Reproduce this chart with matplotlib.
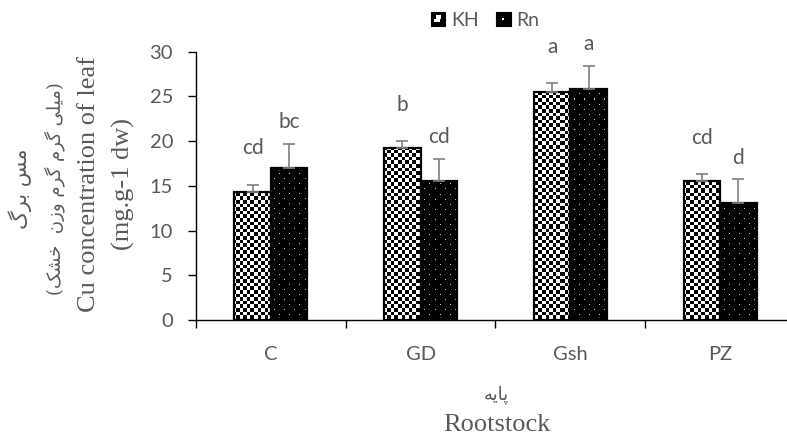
import numpy as np
import matplotlib
matplotlib.use("Agg")
import matplotlib.pyplot as plt
from matplotlib.patches import Rectangle, Patch
from matplotlib.legend_handler import HandlerBase

# ---------------- data ----------------
categories = ["C", "GD", "Gsh", "PZ"]
series_names = ["KH", "Rn"]
kh_values = [14.3, 19.2, 25.5, 15.5]
rn_values = [17.0, 15.5, 25.8, 13.1]
kh_err = [0.85, 0.85, 1.0, 0.85]
rn_err = [2.7, 2.5, 2.6, 2.65]
kh_letters = ["cd", "b", "a", "cd"]
rn_letters = ["bc", "cd", "a", "d"]
yticks = [0, 5, 10, 15, 20, 25, 30]

# Persian texts (presentation forms, visual order)
fa_line1 = "\uFB92\uFEAE\uFE91 \uFEB2\uFEE3"  # مس برگ
fa_line2 = ("(" + "\uFB8F\uFEB8\uFEA7" + "  " + "\uFEE5\uFEAF\uFEED" + " " +
            "\uFEE1\uFEAE\uFB94" + " " + "\uFEE1\uFEAE\uFB94" + " " +
            "\uFBFD\uFEE0\uFBFF\uFEE3" + ")")  # (میلی گرم گرم وزن خشک)
fa_xlabel = "\uFEEA\uFBFE\uFE8E\uFB58"  # پایه
en_ylabel1 = "Cu concentration of leaf"
en_ylabel2 = "(mg.g-1 dw)"
en_xlabel = "Rootstock"

W, H = 787, 438
fig = plt.figure(figsize=(W / 100, H / 100), dpi=100)

def fx(x):
    return x / W

def fy(y):
    return 1 - y / H

ax_l, ax_r, ax_t, ax_b = 196, 795, 51.7, 320
ax = fig.add_axes([fx(ax_l), fy(ax_b), (ax_r - ax_l) / W, (ax_b - ax_t) / H])

gray_txt = "#595959"
tick_font = "Lato"

x = np.arange(len(categories))
w = 0.244
ax.set_xlim(-0.5, len(categories) - 0.5)
ax.set_ylim(0, 30)

bars_kh = ax.bar(x - w / 2, kh_values, w, facecolor="none", edgecolor="black",
                 linewidth=1.6, zorder=3)
bars_rn = ax.bar(x + w / 2, rn_values, w, facecolor="none", edgecolor="black",
                 linewidth=1.6, zorder=3)

# pixel patterns
pw, ph = int(ax_r - ax_l), int(ax_b - ax_t)
jj, ii = np.meshgrid(np.arange(pw), np.arange(ph))
checker = ((np.floor(jj / 3.6) + np.floor(ii / 3.6)) % 2).astype(float)
dots = np.zeros((ph, pw))
row = ii // 5
mask = (ii % 5 == 2) & (((jj + (row % 2) * 5) % 10) == 3)
dots[mask] = 0.8

ext = (ax.get_xlim()[0], ax.get_xlim()[1], 0, 30)
for b in bars_kh:
    im = ax.imshow(checker, extent=ext, aspect="auto", interpolation="nearest",
                   cmap="gray", vmin=0, vmax=1, zorder=2, origin="upper")
    im.set_clip_path(b)
for b in bars_rn:
    im = ax.imshow(dots, extent=ext, aspect="auto", interpolation="nearest",
                   cmap="gray", vmin=0, vmax=1, zorder=2, origin="upper")
    im.set_clip_path(b)

# error bars (upper only)
ax.errorbar(x - w / 2, kh_values, yerr=[np.zeros(len(kh_err)), kh_err], fmt="none",
            ecolor="#808080", elinewidth=1.2, capsize=4.3, capthick=1.2, zorder=4)
ax.errorbar(x + w / 2, rn_values, yerr=[np.zeros(len(rn_err)), rn_err], fmt="none",
            ecolor="#808080", elinewidth=1.2, capsize=4.3, capthick=1.2, zorder=4)

# significance letters
for xi, v, e, t in zip(x - w / 2, kh_values, kh_err, kh_letters):
    ax.annotate(t, (xi, v + e), xytext=(0, 26), textcoords="offset points",
                ha="center", va="center", color=gray_txt, fontsize=15,
                family=tick_font)
for xi, v, e, t in zip(x + w / 2, rn_values, rn_err, rn_letters):
    ax.annotate(t, (xi, v + e), xytext=(0, 15.5), textcoords="offset points",
                ha="center", va="center", color=gray_txt, fontsize=15,
                family=tick_font)

# axes styling
for s in ["top", "right"]:
    ax.spines[s].set_visible(False)
for s in ["left", "bottom"]:
    ax.spines[s].set_color("black")
    ax.spines[s].set_linewidth(1.0)
    ax.spines[s].set_zorder(5)
ax.set_yticks(yticks)
ax.set_yticklabels([str(v) for v in yticks])
ax.tick_params(axis="y", direction="out", length=5.5, width=1.0, color="black",
               labelcolor=gray_txt, labelsize=14.5, pad=11)
ax.set_xticks(np.arange(len(categories) + 1) - 0.5)
ax.set_xticklabels([])
ax.set_xticks(x, minor=True)
ax.set_xticklabels(categories, minor=True)
ax.tick_params(axis="x", which="major", direction="out", length=5.5, width=1.0,
               color="black")
ax.tick_params(axis="x", which="minor", length=0, labelcolor=gray_txt,
               labelsize=14.5, pad=19)
for lab in ax.get_yticklabels() + ax.get_xticklabels(minor=True):
    lab.set_family(tick_font)

# axis titles
fa_fam = ["DejaVu Serif", "DejaVu Sans"]
fig.text(fx(20), fy(189), fa_line1, rotation=90, ha="center", va="center",
         fontsize=15, family=fa_fam, color=gray_txt)
fig.text(fx(55), fy(189), fa_line2, rotation=90, ha="center", va="center",
         fontsize=13, family=fa_fam, color=gray_txt)
fig.text(fx(89), fy(184), en_ylabel1, rotation=90, ha="center", va="center",
         fontsize=19, family="Liberation Serif", color=gray_txt)
fig.text(fx(123), fy(184), en_ylabel2, rotation=90, ha="center", va="center",
         fontsize=19, family="Liberation Serif", color=gray_txt)
fig.text(fx(496), fy(395), fa_xlabel, ha="center", va="center",
         fontsize=13, family=fa_fam, color=gray_txt)
fig.text(fx(497), fy(425), en_xlabel, ha="center", va="center",
         fontsize=19, family="Liberation Serif", color=gray_txt)

# legend with pattern handles
class PatternHandler(HandlerBase):
    def __init__(self, kind):
        super().__init__()
        self.kind = kind

    def create_artists(self, legend, orig_handle, xdescent, ydescent, width,
                       height, fontsize, trans):
        x0, y0 = -xdescent, -ydescent
        arts = [Rectangle((x0, y0), width, height, facecolor="black",
                          edgecolor="black", lw=0.8, transform=trans)]
        if self.kind == "checker":
            n = 4
            cw, chh = width / n, height / n
            for r in range(1, n - 1):
                for c in range(1, n - 1):
                    if (r + c) % 2 == 0:
                        arts.append(Rectangle((x0 + c * cw, y0 + r * chh), cw, chh,
                                              facecolor="white", edgecolor="none",
                                              transform=trans))
            arts.append(Rectangle((x0 + 1.5 * cw, y0 + 1.0 * chh), cw, 2 * chh,
                                  facecolor="white", edgecolor="none",
                                  transform=trans))
        else:
            s = width * 0.14
            arts.append(Rectangle((x0 + width / 2 - s / 2, y0 + height / 2 - s / 2),
                                  s, s, facecolor="white", edgecolor="none",
                                  transform=trans))
        return arts

h_kh = Patch(label=series_names[0])
h_rn = Patch(label=series_names[1])
leg = fig.legend(handles=[h_kh, h_rn], labels=series_names, loc="center",
                 bbox_to_anchor=(fx(485), fy(20)), ncol=2, frameon=False,
                 handler_map={h_kh: PatternHandler("checker"),
                              h_rn: PatternHandler("dot")},
                 handlelength=0.75, handleheight=0.75, handletextpad=0.3,
                 columnspacing=0.9, prop={"family": tick_font, "size": 14})
for t in leg.get_texts():
    t.set_color(gray_txt)

fig.savefig("out.png", dpi=100)
